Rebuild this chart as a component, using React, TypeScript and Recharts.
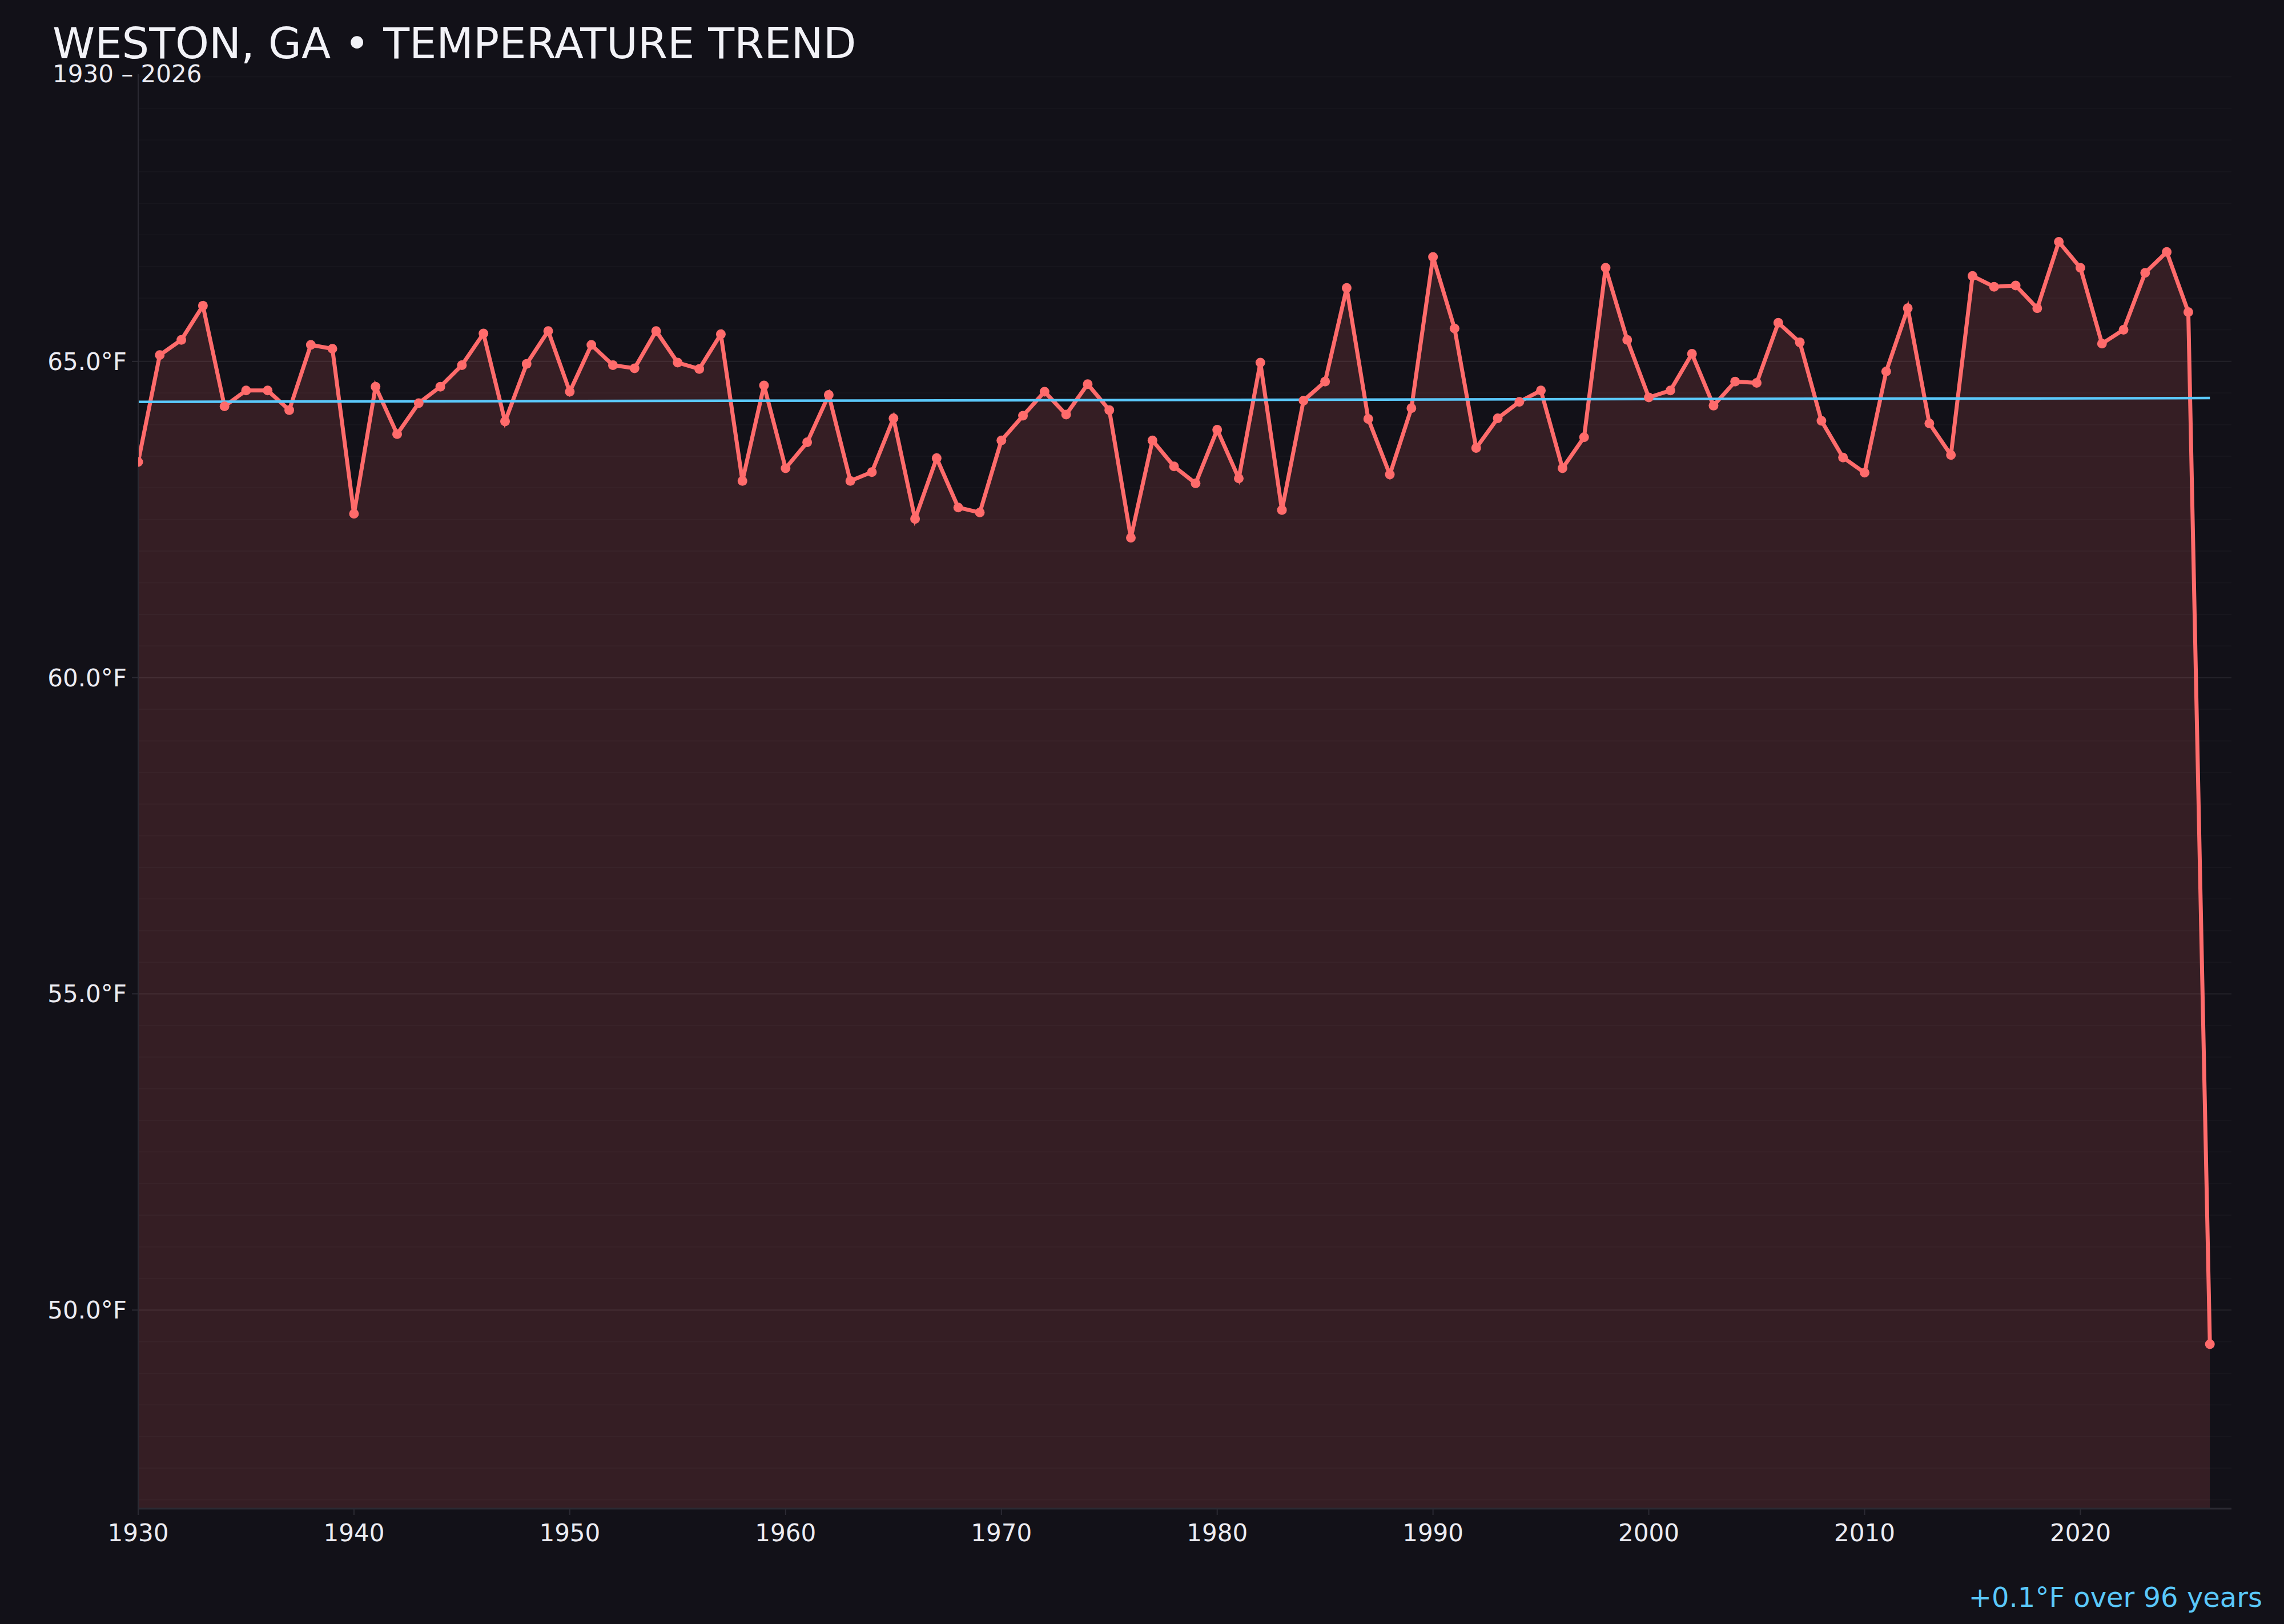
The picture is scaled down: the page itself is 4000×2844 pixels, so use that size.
import { Area, ComposedChart, Line, ReferenceLine, XAxis, YAxis } from 'recharts';

const W = 4000;
const H = 2844;
const BG = '#121118';
const RED = '#ff6b6b';
const BLUE = '#5ac8fa';
const TEXT = '#ececf2';
const AXIS = '#2b2a33';
const FONT = '"DejaVu Sans", sans-serif';

// annual mean temperature, one value per year from 1930
const startYear = 1930;
const temps = [
  63.41, 65.1, 65.34, 65.88, 64.29, 64.54, 64.54, 64.23, 65.26, 65.2,
  62.59, 64.6, 63.85, 64.34, 64.6, 64.94, 65.44, 64.05, 64.96, 65.48,
  64.52, 65.26, 64.94, 64.89, 65.48, 64.98, 64.88, 65.43, 63.11, 64.62,
  63.31, 63.72, 64.47, 63.11, 63.25, 64.1, 62.51, 63.47, 62.69, 62.61,
  63.75, 64.14, 64.52, 64.16, 64.64, 64.23, 62.21, 63.75, 63.34, 63.07,
  63.92, 63.15, 64.98, 62.65, 64.38, 64.68, 66.16, 64.09, 63.21, 64.26,
  66.65, 65.52, 63.63, 64.1, 64.36, 64.54, 63.31, 63.8, 66.48, 65.34,
  64.43, 64.54, 65.12, 64.3, 64.68, 64.66, 65.61, 65.3, 64.06, 63.48,
  63.24, 64.84, 65.84, 64.02, 63.52, 66.35, 66.18, 66.2, 65.84, 66.89,
  66.48, 65.28, 65.5, 66.4, 66.73, 65.78, 49.46,
];

// linear trend, value at first and last year
const trendEnds = [64.36, 64.42];

const xTicks = [1930, 1940, 1950, 1960, 1970, 1980, 1990, 2000, 2010, 2020];
const yTicks = [50, 55, 60, 65];
const yDomain: [number, number] = [46.86, 69.54];
const xDomain: [number, number] = [1930, 2027];

const minorGrid = Array.from({ length: 46 }, (_, i) => 47 + i * 0.5).filter(
  (v) => !yTicks.includes(v),
);

const data = temps.map((temp, i) => ({
  year: startYear + i,
  temp,
  trend: i === 0 ? trendEnds[0] : i === temps.length - 1 ? trendEnds[1] : null,
}));

export default function App() {
  return (
    <div style={{ position: 'absolute', left: 0, top: 0, width: W, height: H, background: BG, overflow: 'hidden' }}>
      <ComposedChart width={W} height={H} data={data} margin={{ top: 130, right: 92, bottom: 122, left: 42 }}>
        {minorGrid.map((v) => (
          <ReferenceLine key={`m${v}`} y={v} stroke="rgba(255,255,255,0.022)" strokeWidth={2} />
        ))}
        {yTicks.map((v) => (
          <ReferenceLine key={`M${v}`} y={v} stroke="rgba(255,255,255,0.075)" strokeWidth={2} />
        ))}
        <XAxis
          dataKey="year"
          type="number"
          domain={xDomain}
          ticks={xTicks}
          allowDataOverflow
          height={80}
          tickSize={11}
          tickMargin={16}
          axisLine={{ stroke: AXIS, strokeWidth: 3 }}
          tickLine={{ stroke: AXIS, strokeWidth: 2 }}
          tick={{ fill: TEXT, fontSize: 42, fontFamily: FONT }}
        />
        <YAxis
          type="number"
          domain={yDomain}
          ticks={yTicks}
          allowDataOverflow
          width={200}
          tickSize={11}
          tickMargin={9}
          tickFormatter={(v: number) => `${v.toFixed(1)}°F`}
          axisLine={{ stroke: AXIS, strokeWidth: 2 }}
          tickLine={{ stroke: AXIS, strokeWidth: 2 }}
          tick={{ fill: TEXT, fontSize: 42, fontFamily: FONT }}
        />
        <Area
          type="linear"
          dataKey="temp"
          baseValue="dataMin"
          fill={RED}
          fillOpacity={0.15}
          stroke="none"
          dot={false}
          activeDot={false}
          isAnimationActive={false}
        />
        <Line
          type="linear"
          dataKey="temp"
          stroke={RED}
          strokeWidth={7}
          dot={{ r: 8.5, fill: RED, stroke: RED, strokeWidth: 0 }}
          activeDot={false}
          isAnimationActive={false}
        />
        <Line
          type="linear"
          dataKey="trend"
          connectNulls
          stroke={BLUE}
          strokeWidth={4.5}
          dot={false}
          activeDot={false}
          isAnimationActive={false}
        />
      </ComposedChart>
      <svg width={W} height={H} style={{ position: 'absolute', left: 0, top: 0, pointerEvents: 'none' }}>
        <text x={92} y={102} fill="#f2f2f7" fontSize={75} fontFamily={FONT}>
          WESTON, GA • TEMPERATURE TREND
        </text>
        <text x={92} y={144} fill={TEXT} fontSize={42} fontFamily={FONT}>
          1930 – 2026
        </text>
        <text x={3962} y={2814} fill={BLUE} fontSize={48} fontFamily={FONT} textAnchor="end">
          +0.1°F over 96 years
        </text>
      </svg>
    </div>
  );
}
